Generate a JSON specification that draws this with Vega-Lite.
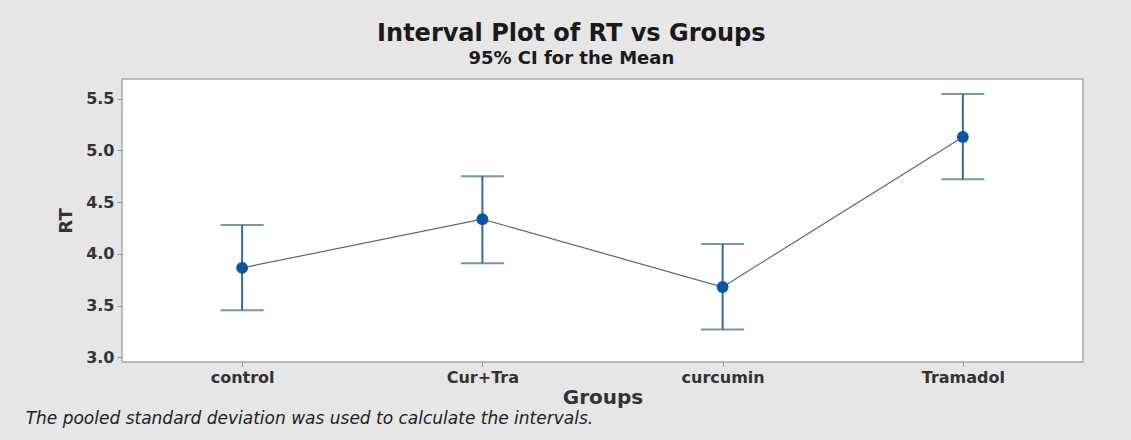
{
  "$schema": "https://vega.github.io/schema/vega-lite/v6.json",
  "background": "#e6e6e6",
  "padding": {"left": 24, "top": 22, "right": 48, "bottom": 12},
  "title": {
    "text": "Interval Plot of RT vs Groups",
    "subtitle": "95% CI for the Mean",
    "anchor": "middle",
    "frame": "bounds",
    "dx": 17,
    "font": "DejaVu Sans",
    "fontSize": 24,
    "fontWeight": "bold",
    "color": "#1a1a1a",
    "subtitleFont": "DejaVu Sans",
    "subtitleFontSize": 18,
    "subtitleFontWeight": "bold",
    "subtitleColor": "#1a1a1a",
    "subtitlePadding": 4,
    "offset": 10
  },
  "config": {
    "view": {"fill": "#ffffff", "stroke": "#a8a8a8", "strokeWidth": 1.5}
  },
  "vconcat": [
    {
      "width": 961,
      "height": 283,
      "title": {
        "text": "The pooled standard deviation was used to calculate the intervals.",
        "orient": "bottom",
        "anchor": "start",
        "frame": "bounds",
        "dx": -32,
        "offset": 4,
        "font": "DejaVu Sans",
        "fontSize": 17,
        "fontStyle": "italic",
        "fontWeight": "normal",
        "color": "#222222"
      },
      "data": {
        "values": [
          {"group": "control", "mean": 3.865, "lower": 3.455, "upper": 4.28},
          {"group": "Cur+Tra", "mean": 4.335, "lower": 3.91, "upper": 4.75},
          {"group": "curcumin", "mean": 3.68, "lower": 3.27, "upper": 4.095},
          {"group": "Tramadol", "mean": 5.13, "lower": 4.72, "upper": 5.545}
        ]
      },
      "encoding": {
        "x": {
          "field": "group",
          "type": "nominal",
          "sort": ["control", "Cur+Tra", "curcumin", "Tramadol"],
          "scale": {"type": "point", "padding": 0.5},
          "axis": {
            "title": "Groups",
            "labelAngle": 0,
            "labelFont": "DejaVu Sans",
            "labelFontSize": 16,
            "labelFontWeight": "bold",
            "labelColor": "#333333",
            "labelPadding": 3,
            "titleFont": "DejaVu Sans",
            "titleFontSize": 20,
            "titleFontWeight": "bold",
            "titleColor": "#333333",
            "titlePadding": 2,
            "domain": false,
            "grid": false,
            "tickColor": "#999999",
            "tickSize": 4
          }
        }
      },
      "layer": [
        {
          "mark": {"type": "rule", "color": "#3b6a8e", "strokeWidth": 2},
          "encoding": {
            "y": {
              "field": "lower",
              "type": "quantitative",
              "scale": {"domain": [2.955, 5.69], "nice": false, "zero": false},
              "axis": {
                "title": "RT",
                "values": [3, 3.5, 4, 4.5, 5, 5.5],
                "format": ".1f",
                "labelFont": "DejaVu Sans",
                "labelFontSize": 16,
                "labelFontWeight": "bold",
                "labelColor": "#333333",
                "labelPadding": 3,
                "titleFont": "DejaVu Sans",
                "titleFontSize": 18,
                "titleFontWeight": "bold",
                "titleColor": "#333333",
                "titlePadding": 10,
                "domain": false,
                "grid": false,
                "tickColor": "#999999",
                "tickSize": 5
              }
            },
            "y2": {"field": "upper"}
          }
        },
        {
          "mark": {"type": "tick", "color": "#3b6a8e", "size": 43, "thickness": 2, "orient": "horizontal"},
          "encoding": {"y": {"field": "lower", "type": "quantitative"}}
        },
        {
          "mark": {"type": "tick", "color": "#3b6a8e", "size": 43, "thickness": 2, "orient": "horizontal"},
          "encoding": {"y": {"field": "upper", "type": "quantitative"}}
        },
        {
          "mark": {"type": "line", "color": "#56697a", "strokeWidth": 1.2},
          "encoding": {"y": {"field": "mean", "type": "quantitative"}}
        },
        {
          "mark": {"type": "point", "filled": true, "color": "#0a56a3", "opacity": 1, "size": 140},
          "encoding": {"y": {"field": "mean", "type": "quantitative"}}
        }
      ]
    }
  ]
}
